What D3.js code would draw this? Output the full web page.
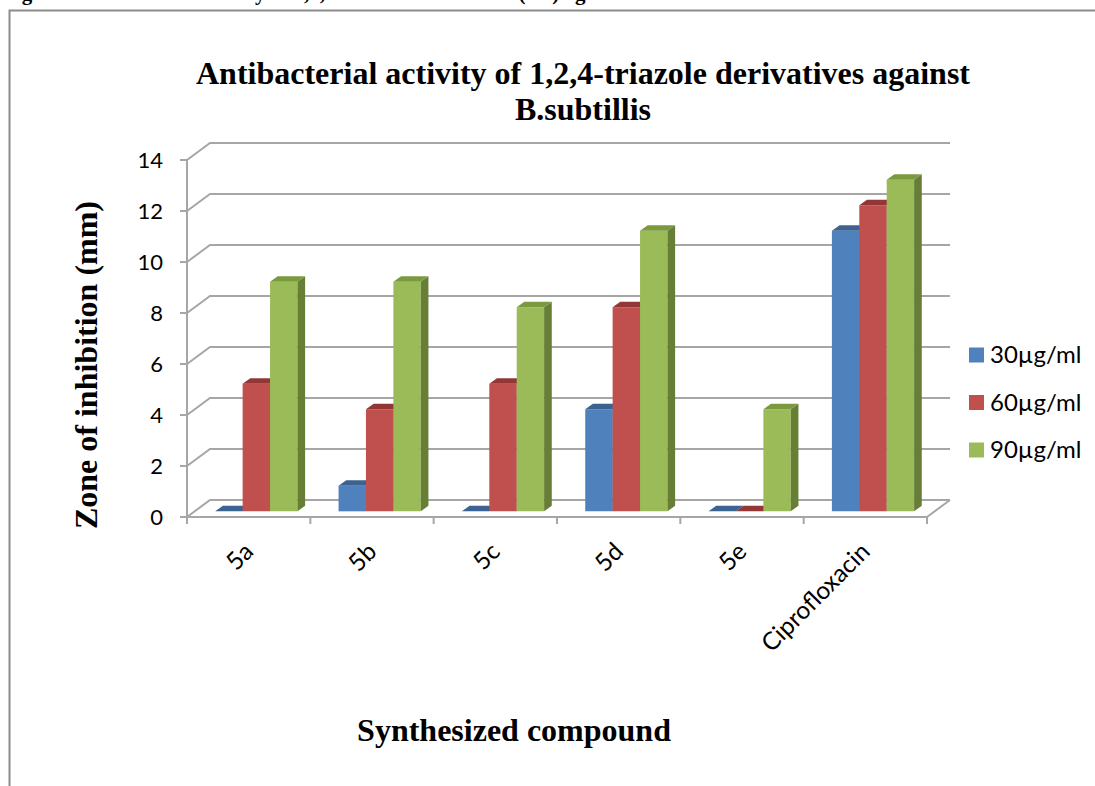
<!DOCTYPE html>
<html><head><meta charset="utf-8">
<script src="https://cdn.jsdelivr.net/npm/d3@7"></script>
<style>html,body{margin:0;padding:0;background:#fff;}svg{display:block;}</style>
</head><body>
<script>
const categories = ["5a","5b","5c","5d","5e","Ciprofloxacin"];
const seriesNames = ["30µg/ml","60µg/ml","90µg/ml"];
const s30 = [0,1,0,4,0,11];
const s60 = [5,4,5,8,0,12];
const s90 = [9,9,8,11,4,13];
const yTicks = [0,2,4,6,8,10,12,14];
const chartTitle = ["Antibacterial activity of 1,2,4-triazole derivatives against","B.subtillis"];
const yTitle = "Zone of inhibition (mm)";
const xTitle = "Synthesized compound";
const headerText = "Fig. 10: Antibacterial activity of 1,2,4-triazole derivatives (a-e) against B.subtilis";

const W = 1095, H = 786;
const svg = d3.select("body").append("svg").attr("width", W).attr("height", H);

const colors = [
  {front:"#4F81BD", top:"#3B6291", side:"#37598A"},
  {front:"#C0504D", top:"#923735", side:"#8C3A38"},
  {front:"#9BBB59", top:"#799A3D", side:"#677E37"}
];
const values = [s30, s60, s90];

// header (cropped at the top edge, as in the source) and frame
svg.append("text").attr("x", 3).attr("y", 0)
  .attr("font-family","Liberation Serif").attr("font-weight","bold").attr("font-size",21)
  .text(headerText);
svg.append("path").attr("d", `M9.5,${H} L9.5,10.5 L${W},10.5`)
  .attr("fill","none").attr("stroke","#8c8c8c").attr("stroke-width",2);

// scales
const x = d3.scaleBand().domain(categories).range([187, 927]);
const xi = d3.scaleBand().domain(seriesNames).range([0, x.bandwidth()]).paddingInner(0).paddingOuter(0.75);
const y = d3.scaleLinear().domain([0,14]).range([517,160]);
const DX = 23, DY = -17;
const P = (px, v, z) => [px + z*DX, y(v) + z*DY];

const grid = svg.append("g").attr("stroke","#a6a6a6").attr("stroke-width",2).attr("fill","none");
yTicks.forEach(t => {
  const a = P(187, t, 0), b = P(187, t, 1), c = P(927, t, 1);
  grid.append("path").attr("d", `M${a[0]},${a[1]} L${b[0]},${b[1]} L${c[0]},${c[1]}`);
});
{
  const a = P(927, 0, 0), b = P(927, 0, 1);
  grid.append("path").attr("d", `M${a[0]},${a[1]} L${b[0]},${b[1]}`);
}
grid.append("line").attr("x1",187).attr("x2",187).attr("y1",y(14)).attr("y2",y(0));
yTicks.forEach(t => grid.append("line").attr("x1",180).attr("x2",187).attr("y1",y(t)).attr("y2",y(t)));
grid.append("line").attr("x1",187).attr("x2",927).attr("y1",y(0)).attr("y2",y(0));
const bounds = categories.map(c => x(c)).concat([x(categories[categories.length-1]) + x.bandwidth()]);
bounds.forEach(bx => grid.append("line").attr("x1",bx).attr("x2",bx).attr("y1",y(0)).attr("y2",y(0)+7));

// y tick labels
svg.append("g").selectAll("text").data(yTicks).join("text")
  .attr("x", 163).attr("y", d => y(d)).attr("dy","0.35em").attr("text-anchor","end")
  .attr("font-family","Lato").attr("font-size",22).attr("fill","#000").text(d => d);

// x tick labels
svg.append("g").selectAll("text").data(categories).join("text")
  .attr("transform", d => `translate(${x(d) + x.bandwidth()/2 - 6},${y(0)+24}) rotate(-45)`)
  .attr("text-anchor","end").attr("dy","0.7em")
  .attr("font-family","Lato").attr("font-size",24.5).attr("fill","#000").text(d => d);

// bars
const bars = svg.append("g");
const poly = pts => "M" + pts.map(p => p.join(",")).join("L") + "Z";
const z0 = 1/3, z1 = 2/3;
categories.forEach((cat, ci) => {
  seriesNames.forEach((s, si) => {
    const v = values[si][ci];
    const x0 = x(cat) + xi(s), x1 = x0 + xi.bandwidth();
    const col = colors[si];
    if (v > 0) {
      bars.append("path").attr("d", poly([P(x0,0,z0),P(x1,0,z0),P(x1,v,z0),P(x0,v,z0)])).attr("fill", col.front);
      bars.append("path").attr("d", poly([P(x1,0,z0),P(x1,0,z1),P(x1,v,z1),P(x1,v,z0)])).attr("fill", col.side);
    }
    bars.append("path").attr("d", poly([P(x0,v,z0),P(x1,v,z0),P(x1,v,z1),P(x0,v,z1)])).attr("fill", col.top);
  });
});

// legend
const lg = svg.append("g");
seriesNames.forEach((s, i) => {
  const ly = 355 + i*47.5;
  lg.append("rect").attr("x",969).attr("y",ly-7.5).attr("width",15).attr("height",15).attr("fill",colors[i].front);
  lg.append("text").attr("x",990).attr("y",ly).attr("dy","0.35em")
    .attr("font-family","Lato").attr("font-size",24).attr("fill","#000").text(s);
});

// titles
const tt = svg.append("text").attr("text-anchor","middle")
  .attr("font-family","Liberation Serif").attr("font-weight","bold").attr("font-size",32).attr("fill","#000");
chartTitle.forEach((t,i) => tt.append("tspan").attr("x",583).attr("y", 84 + i*36).text(t));

svg.append("text").attr("transform","translate(97,365) rotate(-90)").attr("text-anchor","middle")
  .attr("font-family","Liberation Serif").attr("font-weight","bold").attr("font-size",32).text(yTitle);

svg.append("text").attr("x",514).attr("y",741).attr("text-anchor","middle")
  .attr("font-family","Liberation Serif").attr("font-weight","bold").attr("font-size",32).text(xTitle);
</script>
</body></html>
